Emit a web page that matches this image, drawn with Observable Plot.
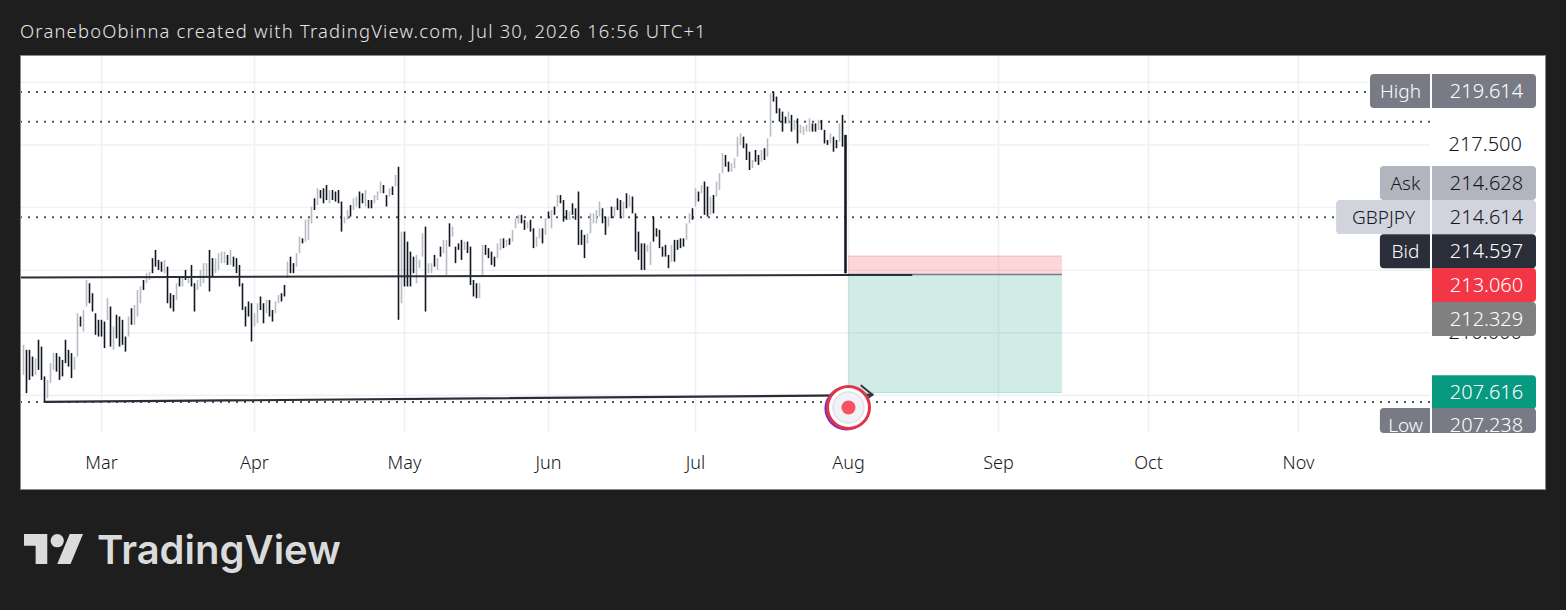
<!DOCTYPE html>
<html><head><meta charset="utf-8">
<script src="https://cdn.jsdelivr.net/npm/d3@7"></script>
<script src="https://cdn.jsdelivr.net/npm/@observablehq/plot@0.6"></script>
<style>
html,body{margin:0;padding:0;background:#1e1e1e;width:1566px;height:610px;overflow:hidden}
#head{position:absolute;left:20px;top:18px;color:#e4e4e4;font:300 18.4px "Noto Sans";white-space:nowrap;letter-spacing:1.2px}
#chart{position:absolute;left:20px;top:55px;width:1526px;height:435px;outline:1px solid #8a8a8a;outline-offset:-1px}
#chart svg{display:block}
#logo{position:absolute;left:24px;top:534px}
#word{position:absolute;left:97px;top:525px;color:#dbdbdb;font:600 40px Inter;letter-spacing:0;white-space:nowrap}
</style></head><body>
<div id="head">OraneboObinna created with TradingView.com, Jul 30, 2026 16:56 UTC+1</div>
<div id="chart"></div>
<svg id="logo" width="59" height="30" viewBox="0 4 35.5 18"><path fill="#dbdbdb" d="M14 22H7V11H0V4h14v18zM28 22h-8l7.5-18h8L28 22z"/><circle fill="#dbdbdb" cx="20" cy="8" r="4"/></svg>
<div id="word">TradingView</div>
<script>
// Bars, in order, starting at bar number 1
const barHigh = [
209.50,209.30,209.30,209.03,208.97,209.70,209.43,208.24,208.10,208.77,
209.17,209.17,209.03,208.90,209.70,209.30,209.17,209.03,210.76,210.63,
210.89,212.09,211.96,211.56,210.76,210.50,210.50,210.43,211.36,211.03,
210.23,210.70,210.63,210.50,209.83,210.63,210.96,211.09,211.69,211.83,
212.09,212.36,212.42,212.96,213.29,212.89,212.82,212.89,212.62,211.56,
211.49,211.96,212.23,212.23,212.49,212.23,212.69,211.96,212.09,212.49,
212.76,212.76,213.29,212.96,212.96,213.16,213.22,213.22,213.09,213.29,
213.02,212.96,212.69,211.96,211.03,211.23,211.16,210.76,211.16,211.43,
211.16,211.29,211.29,210.89,211.23,211.49,211.56,211.89,212.82,213.02,
212.76,213.16,213.82,213.75,214.49,214.55,215.02,215.35,215.75,215.68,
215.75,215.88,215.68,215.68,215.62,215.68,215.22,214.62,214.88,215.08,
215.35,215.42,215.62,215.55,215.68,215.28,215.28,215.48,215.62,216.02,
215.88,215.48,215.75,215.82,216.28,216.61,214.02,214.02,213.62,213.22,
213.02,213.09,212.89,213.95,214.22,212.76,212.76,213.09,212.96,213.42,
213.69,213.69,214.35,214.22,213.42,213.55,213.69,213.62,213.62,213.42,
212.09,211.96,211.96,213.49,213.49,213.36,213.22,213.02,213.55,213.75,
213.75,213.69,213.75,214.09,214.55,214.69,214.69,214.49,214.42,214.49,
214.15,213.82,214.15,214.15,214.55,214.82,214.88,215.02,215.48,215.48,
215.28,214.88,214.82,215.15,214.95,215.62,214.09,213.89,213.95,214.75,
214.75,214.88,215.22,214.95,214.62,214.62,215.02,215.02,215.35,215.28,
215.22,215.55,215.48,215.42,214.75,214.02,213.55,213.55,213.49,213.62,
214.62,214.15,214.09,213.42,213.49,213.09,213.49,213.69,213.69,213.75,
213.75,214.35,214.75,214.95,215.75,215.62,215.88,216.02,215.82,215.42,
215.48,216.02,216.35,217.15,217.08,216.81,216.75,216.95,217.81,217.94,
217.81,217.54,217.21,216.88,217.28,217.08,217.28,217.35,217.74,219.54,
219.61,219.41,218.94,218.81,218.61,218.81,218.68,218.48,218.54,218.28,
218.21,218.28,218.54,218.34,218.34,218.48,218.48,218.08,217.68,217.94,
217.81,217.68,218.34,218.68,217.88];
const barLow = [
208.30,207.57,208.10,208.24,208.30,208.50,208.10,207.24,207.37,207.97,
208.50,208.43,208.10,208.24,208.77,208.63,208.17,208.50,209.03,210.23,
210.03,211.03,211.16,210.83,209.90,209.83,209.83,209.37,210.50,209.43,
209.30,209.76,209.43,209.50,209.23,209.83,210.30,210.30,210.63,211.16,
211.69,211.96,212.09,212.36,212.62,212.49,212.42,212.36,211.16,210.96,
210.83,211.29,211.83,211.83,212.09,211.96,211.83,210.83,211.69,211.83,
211.96,212.23,211.63,212.23,212.36,212.49,212.76,212.76,212.69,212.69,
212.62,212.36,211.83,210.89,210.23,210.63,209.63,210.23,210.36,210.89,
210.36,210.76,210.63,210.43,210.76,211.16,211.23,211.43,212.16,212.36,
212.36,212.62,213.16,213.55,213.62,213.69,214.35,214.88,215.08,215.35,
215.15,215.28,215.15,215.28,215.22,215.15,214.02,214.35,214.49,214.62,
214.88,215.02,214.95,215.15,215.02,214.95,214.95,215.15,215.28,215.55,
215.55,215.02,215.42,215.48,215.82,210.50,211.16,211.83,211.83,211.83,
212.36,211.96,212.56,213.02,210.83,212.36,212.36,212.62,212.49,213.02,
213.16,212.29,213.42,213.82,212.76,213.29,212.89,213.29,213.16,211.89,
211.43,211.36,211.36,212.23,213.09,212.96,212.69,212.62,212.96,213.29,
213.36,213.42,213.49,213.62,214.15,214.35,214.35,214.09,214.15,214.02,
213.36,213.42,213.75,213.55,213.89,214.55,214.15,214.69,215.02,215.15,
214.42,214.49,214.49,214.69,214.49,213.49,213.49,212.96,213.55,213.95,
214.35,214.35,214.62,214.35,213.89,214.22,214.55,214.62,214.88,214.55,
214.55,214.95,215.02,214.75,213.22,212.89,212.49,212.49,213.22,212.69,
213.62,213.82,213.36,213.02,213.02,212.56,212.82,212.82,213.29,213.36,
213.42,213.69,214.35,214.49,215.02,215.22,215.55,214.69,214.62,214.69,
214.75,215.42,215.68,216.35,216.61,216.41,216.41,216.55,217.01,217.48,
217.35,216.88,216.48,216.55,216.81,216.68,216.81,216.88,217.01,217.81,
219.21,218.74,218.41,218.01,218.34,218.34,218.01,218.08,217.54,217.94,
217.88,218.01,218.01,218.01,218.01,218.08,218.08,217.54,217.48,217.54,
217.21,217.35,217.61,217.41,212.36];
// 1 = rising bar, 0 = falling bar
const barRising = [
1,0,0,0,1,0,0,0,1,1, 1,0,0,0,0,0,0,1,1,0, 1,1,0,0,0,0,0,0,1,0, 1,0,0,0,0,1,0,1,1,1,
0,1,1,0,0,0,0,1,0,0, 0,1,0,1,0,1,0,0,1,1, 1,1,0,0,1,1,1,1,0,1, 0,0,0,0,0,0,0,1,1,0,
0,1,0,0,1,1,0,0,1,0, 0,1,1,0,1,1,1,0,1,0, 0,0,1,0,0,0,0,1,1,0, 1,1,0,0,1,0,0,1,1,1,
0,0,1,0,1,0,1,0,0,0, 0,1,1,1,0,1,1,0,1,0, 1,1,0,1,0,0,0,1,0,0, 0,0,1,1,0,0,0,0,1,1,
0,1,0,1,1,1,0,0,1,0, 0,1,1,0,1,0,1,0,1,0, 0,0,1,0,0,0,0,0,1,1, 1,1,1,0,0,1,0,1,0,0,
1,0,1,0,0,0,0,0,1,1, 0,0,0,0,0,0,1,0,0,0, 0,1,1,0,1,0,1,0,0,1, 0,1,1,1,0,0,1,1,1,1,
0,0,0,1,0,0,1,0,1,1, 0,0,0,0,0,1,0,1,0,1, 1,1,1,0,0,1,0,0,0,1, 0,0,1,0,0];

// Time axis
const monthBars = [27,78,128,176,225,276,326,376,426];
const monthNames = ["Mar","Apr","May","Jun","Jul","Aug","Sep","Oct","Nov"];
// Price axis: grid lines, and the tick labels not fully covered by a price label
const priceGrid = [220,217.5,215,212.5,210,207.5];
const priceTicks = [220,217.5,210];

// Horizontal dotted levels
const dottedPrice = [219.614,218.43,214.614,207.238];
const dottedEndBar = [450,470,438.7,470];

// Long position tool
const positionBars = [276,347.3];
const stopPrice = 213.06;
const entryPrice = 212.329;
const targetPrice = 207.616;

// Trend lines
const trendABars = [0,276,297];
const trendAPrices = [212.21,212.31,212.31];
const trendBBars = [8,275,284];
const trendBPrices = [207.24,207.50,207.53];
const arrowBars = [280.3,284,281.3];
const arrowPrices = [207.89,207.53,207.30];

// Alert marker
const markerBar = 276;
const markerPrice = 207.02;

// Price scale labels (value, slot the label sits in after stacking, colours, name tag)
const labelValue = ["219.614","214.628","214.614","214.597","213.060","212.329","207.616","207.238"];
const labelSlot  = [219.63,215.96,214.60,213.24,211.89,210.53,207.61,206.30];
const labelFill  = ["#787b86","#b2b5be","#d1d4dc","#2a2e39","#f23645","#808080","#089981","#787b86"];
const labelInk   = ["#fff","#131722","#131722","#fff","#fff","#fff","#fff","#fff"];
const tagName    = ["High","Ask","GBPJPY","Bid",null,null,null,"Low"];
const tagStart   = [450,453.3,438.7,453.3,null,null,null,453.3];

const yDomain = [205.98,221.07];
const halfSlot = 0.679;
const valueCol = [470.67,505.33];
const tagEnd = 470;
const valueCenter = 488.67;

const bars = barHigh.map((h,i)=>({bar:i+1,high:h,low:barLow[i],up:barRising[i]===1}));
const pts = (xs,ys)=>xs.map((x,i)=>({x,y:ys[i]}));
const dotted = dottedPrice.map((p,i)=>({p,end:dottedEndBar[i]}));
const labels = labelValue.map((v,i)=>({v,top:labelSlot[i]+halfSlot,bottom:Math.max(labelSlot[i]-halfSlot,yDomain[0]),mid:labelSlot[i],fill:labelFill[i],ink:labelInk[i],tag:tagName[i],start:tagStart[i]}));
const tags = labels.filter(d=>d.tag);

const chart = Plot.plot({
  width:1526,height:435,marginLeft:0,marginRight:116,marginTop:0,marginBottom:57,
  style:{background:"#fff",fontFamily:"Noto Sans",fontSize:"19px",fontWeight:300,color:"#131722"},
  x:{type:"linear",domain:[0,470]},
  y:{type:"linear",domain:yDomain},
  marks:[
    Plot.gridX(monthBars,{stroke:"#f0f1f3",strokeOpacity:1,strokeWidth:1.6}),
    Plot.gridY(priceGrid,{stroke:"#f0f1f3",strokeOpacity:1,strokeWidth:1.6}),
    Plot.axisX(monthBars,{anchor:"bottom",tickSize:0,tickPadding:23,tickFormat:d=>monthNames[monthBars.indexOf(d)],label:null,fontSize:18,fill:"#131722"}),
    Plot.axisY(priceTicks,{anchor:"right",tickSize:0,tickPadding:18,tickFormat:d3.format(".3f"),label:null,fontSize:20,fill:"#131722"}),
    Plot.rect([0],{x1:positionBars[0],x2:positionBars[1],y1:entryPrice,y2:stopPrice,fill:"#f23645",fillOpacity:.2}),
    Plot.rect([0],{x1:positionBars[0],x2:positionBars[1],y1:targetPrice,y2:entryPrice,fill:"#089981",fillOpacity:.19}),
    Plot.ruleY([entryPrice],{x1:positionBars[0],x2:positionBars[1],stroke:"#787b86",strokeWidth:1.5}),
    Plot.ruleY([targetPrice],{x1:positionBars[0],x2:positionBars[1],stroke:"#089981",strokeOpacity:.3}),
    Plot.ruleY([stopPrice],{x1:positionBars[0],x2:positionBars[1],stroke:"#f23645",strokeOpacity:.2}),
    Plot.ruleY(dotted,{y:"p",x1:0,x2:"end",stroke:"#50555c",strokeWidth:2,strokeDasharray:"2,6"}),
    Plot.ruleX(bars.filter(d=>d.up),{x:"bar",y1:"low",y2:"high",stroke:"#b9bbc4",strokeWidth:1.6}),
    Plot.ruleX(bars.filter(d=>!d.up),{x:"bar",y1:"low",y2:"high",stroke:"#131722",strokeWidth:1.6}),
    Plot.ruleX(bars.slice(-1),{x:"bar",y1:"low",y2:"high",stroke:"#131722",strokeWidth:2.4}),
    Plot.line(pts(trendABars,trendAPrices),{x:"x",y:"y",stroke:"#2a2e39",strokeWidth:2}),
    Plot.line(pts(trendBBars,trendBPrices),{x:"x",y:"y",stroke:"#2a2e39",strokeWidth:2.2}),
    Plot.line(pts(arrowBars,arrowPrices),{x:"x",y:"y",stroke:"#2a3a42",strokeWidth:2}),
    Plot.dot([0],{x:markerBar-.7,y:markerPrice-.04,r:22,fill:"#7b2cbf"}),
    Plot.dot([0],{x:markerBar,y:markerPrice,r:21,fill:"#fff",stroke:"#e0344a",strokeWidth:3}),
    Plot.dot([0],{x:markerBar,y:markerPrice,r:15.5,fill:"#f0f2f8",stroke:"#dfe1e8"}),
    Plot.dot([0],{x:markerBar,y:markerPrice,r:7,fill:"#f7525f"}),
    Plot.rect(tags,{x1:"start",x2:tagEnd,y1:"bottom",y2:"top",fill:"fill",rx1:4}),
    Plot.rect(labels,{x1:valueCol[0],x2:valueCol[1],y1:"bottom",y2:"top",fill:"fill",rx2:4}),
    Plot.text(labels,{x:valueCenter,y:"mid",text:"v",fill:"ink",fontSize:20}),
    Plot.text(tags,{x:d=>(d.start+tagEnd)/2,y:"mid",text:"tag",fill:"ink",fontSize:19})
  ]
});
document.getElementById("chart").appendChild(chart);
</script>
</body></html>
